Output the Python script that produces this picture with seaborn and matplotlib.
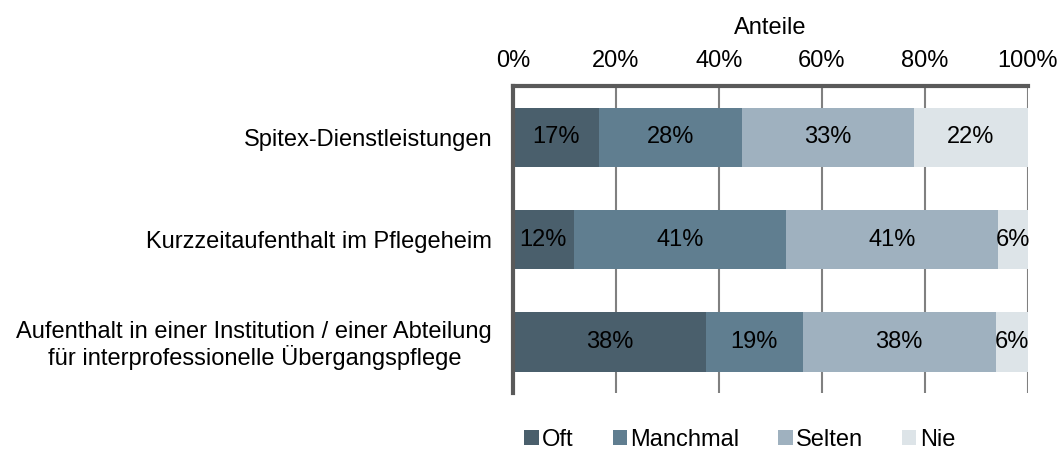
import matplotlib
matplotlib.use("Agg")
import matplotlib.pyplot as plt
import seaborn as sns
import numpy as np
import pandas as pd
from matplotlib.patches import Patch

categories = ["Spitex-Dienstleistungen",
              "Kurzzeitaufenthalt im Pflegeheim",
              "Aufenthalt in einer Institution / einer Abteilung\nfür interprofessionelle Übergangspflege"]
series = ["Oft", "Manchmal", "Selten", "Nie"]
oft = [16.7, 11.8, 37.5]
manchmal = [27.8, 41.2, 18.75]
selten = [33.3, 41.2, 37.5]
nie = [22.2, 5.9, 6.25]
colors = ["#4a5f6c", "#607e90", "#9fb1bf", "#dde4e8"]
xticks = [0, 20, 40, 60, 80, 100]

FS = 17

sns.set_theme(style="white")
plt.rcParams['font.family'] = ['Liberation Sans', 'DejaVu Sans']
plt.rcParams['text.color'] = 'black'
plt.rcParams['axes.labelcolor'] = 'black'
plt.rcParams['xtick.color'] = 'black'
plt.rcParams['ytick.color'] = 'black'

fig = plt.figure(figsize=(10.63, 4.51), dpi=100)
ax = fig.add_axes([0.4826, 0.1286, 0.967 - 0.4826, 0.809 - 0.1286])

vals = np.array([oft, manchmal, selten, nie])
cum = np.cumsum(vals, axis=0)

for i in range(len(series) - 1, -1, -1):
    df = pd.DataFrame({"cat": categories, "val": cum[i]})
    sns.barplot(data=df, x="val", y="cat", orient="h", color=colors[i],
                saturation=1, width=0.58, ax=ax, zorder=2, linewidth=0)

for j in range(len(categories)):
    left = 0
    for i in range(len(series)):
        v = vals[i][j]
        ax.text(left + v / 2, j, f"{v:.0f}%", ha="center", va="center",
                fontsize=FS, color="black", zorder=3)
        left += v

ax.set_xlim(0, 100)
ax.set_ylim(2.5, -0.5)
ax.set_xticks(xticks)
ax.set_xticklabels([f"{t}%" for t in xticks])
ax.xaxis.tick_top()
ax.xaxis.set_label_position("top")
ax.set_xlabel("Anteile", fontsize=FS, labelpad=12, color="black")
ax.set_ylabel("")
ax.tick_params(axis="x", length=0, pad=10, labelsize=FS, labelcolor="black")
ax.tick_params(axis="y", length=0, pad=15, labelsize=FS, labelcolor="black")
for lab in ax.get_yticklabels():
    lab.set_multialignment("center")
    lab.set_linespacing(1.1)

ax.grid(axis="x", color="#808080", linewidth=1.5, zorder=0)
ax.set_axisbelow(True)
for s in ["right", "bottom"]:
    ax.spines[s].set_visible(False)
for s in ["top", "left"]:
    ax.spines[s].set_color("#5a5a5a")
    ax.spines[s].set_linewidth(3)

handles = [Patch(facecolor=c, edgecolor="none") for c in colors]
leg = fig.legend(handles, series, loc="center", bbox_to_anchor=(0.696, 0.025),
                 ncol=4, frameon=False, fontsize=FS, handlelength=0.6,
                 handleheight=0.6, handletextpad=0.15, columnspacing=1.65,
                 borderpad=0)
for t in leg.get_texts():
    t.set_color("black")

fig.savefig("out.png", dpi=100)
